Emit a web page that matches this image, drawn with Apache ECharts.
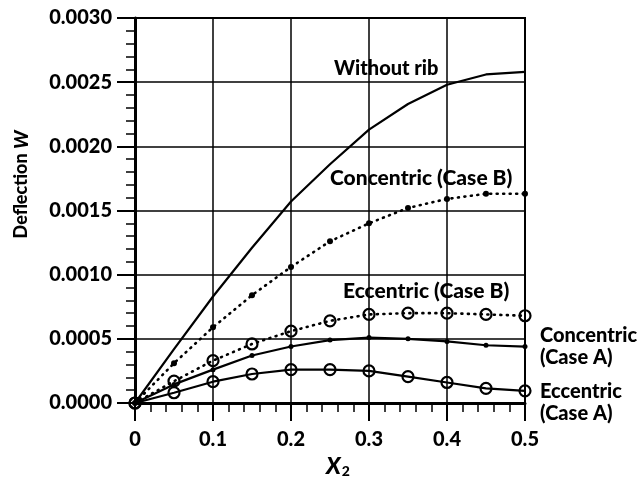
<!DOCTYPE html>
<html>
<head>
<meta charset="utf-8">
<script src="https://cdn.jsdelivr.net/npm/echarts@6/dist/echarts.min.js"></script>
<style>html,body{margin:0;padding:0;background:#fff}#c{width:642px;height:484px}</style>
</head>
<body>
<div id="c"></div>
<script>
const xValues = [0, 0.05, 0.1, 0.15, 0.2, 0.25, 0.3, 0.35, 0.4, 0.45, 0.5];
const withoutRib = [0, 0.00042, 0.00083, 0.00121, 0.00157, 0.00186, 0.00213, 0.00233, 0.00248, 0.00256, 0.00258];
const concentricB = [0, 0.00031, 0.00059, 0.00084, 0.00106, 0.00126, 0.00140, 0.00152, 0.00159, 0.00163, 0.00163];
const eccentricB = [0, 0.00017, 0.00033, 0.00046, 0.00056, 0.00064, 0.00069, 0.00070, 0.00070, 0.00069, 0.00068];
const concentricA = [0, 0.000145, 0.00026, 0.00037, 0.00044, 0.00049, 0.00051, 0.00050, 0.00048, 0.00045, 0.00044];
const eccentricA = [0, 0.00008, 0.000166, 0.000226, 0.00026, 0.00026, 0.00025, 0.000205, 0.00016, 0.000114, 0.000095];

const FONT = 'Lato';
const pairs = arr => xValues.map((x, i) => [x, arr[i]]);

const chart = echarts.init(document.getElementById('c'), null, {renderer: 'canvas'});
const lbl = (text, left, top, size) => ({
  type: 'text', left: left, top: top,
  style: {text: text, font: '900 ' + size + 'px ' + FONT, fill: '#000', lineHeight: 22}
});

chart.setOption({
  animation: false,
  backgroundColor: '#fff',
  grid: {left: 135, right: 117, top: 18, bottom: 81, show: true, borderColor: '#000', borderWidth: 2, backgroundColor: 'transparent'},
  xAxis: {
    type: 'value', min: 0, max: 0.5, interval: 0.1,
    axisLine: {show: true, onZero: false, lineStyle: {color: '#000', width: 3}},
    axisTick: {show: true, length: 18, lineStyle: {color: '#000', width: 2}},
    minorTick: {show: true, splitNumber: 5, length: 9, lineStyle: {color: '#000', width: 1.5}},
    splitLine: {show: true, lineStyle: {color: '#000', width: 1.5}},
    axisLabel: {margin: 27, color: '#000', fontFamily: FONT, fontWeight: 900, fontSize: 20,
      formatter: v => v === 0 ? '0' : v.toFixed(1)},
    name: '{i|X}{s|2}', nameLocation: 'middle', nameGap: 44,
    nameTextStyle: {padding: [0, 0, 0, 16], rich: {
      i: {fontFamily: FONT, fontStyle: 'italic', fontWeight: 900, fontSize: 23, color: '#000'},
      s: {fontFamily: FONT, fontWeight: 900, fontSize: 14, color: '#000', padding: [10, 0, 0, 1]}
    }}
  },
  yAxis: {
    type: 'value', min: 0, max: 0.003, interval: 0.0005,
    axisLine: {show: true, onZero: false, lineStyle: {color: '#000', width: 3}},
    axisTick: {show: true, length: 18, lineStyle: {color: '#000', width: 2}},
    minorTick: {show: true, splitNumber: 5, length: 9, lineStyle: {color: '#000', width: 1.5}},
    splitLine: {show: true, lineStyle: {color: '#000', width: 1.5}},
    axisLabel: {margin: 23, color: '#000', fontFamily: FONT, fontWeight: 900, fontSize: 20,
      formatter: v => v.toFixed(4)},
    name: '{n|Deflection }{i|W}', nameLocation: 'middle', nameRotate: 90, nameGap: 104,
    nameTextStyle: {fontSize: 18, padding: [0, 0, 0, 52], rich: {
      n: {fontFamily: FONT, fontWeight: 900, fontSize: 18, color: '#000'},
      i: {fontFamily: FONT, fontStyle: 'italic', fontWeight: 900, fontSize: 19, color: '#000'}
    }}
  },
  series: [
    {name: 'Without rib', type: 'line', data: pairs(withoutRib), showSymbol: false, symbol: 'none',
      lineStyle: {color: '#000', width: 2.2}, z: 5},
    {name: 'Concentric (Case B)', type: 'line', data: pairs(concentricB), symbol: 'circle', symbolSize: 6,
      itemStyle: {color: '#000'}, lineStyle: {color: '#000', width: 2.6, type: [1, 5.5], cap: 'round'}, z: 5},
    {name: 'Eccentric (Case B)', type: 'line', data: pairs(eccentricB), symbol: 'circle', symbolSize: 11,
      itemStyle: {color: 'rgba(0,0,0,0)', borderColor: '#000', borderWidth: 2.2},
      lineStyle: {color: '#000', width: 2.6, type: [1, 5.5], cap: 'round'}, z: 5},
    {name: 'Concentric (Case A)', type: 'line', data: pairs(concentricA), symbol: 'circle', symbolSize: 5,
      itemStyle: {color: '#000'}, lineStyle: {color: '#000', width: 2.2}, z: 5},
    {name: 'Eccentric (Case A)', type: 'line', data: pairs(eccentricA), symbol: 'circle', symbolSize: 11,
      itemStyle: {color: 'rgba(0,0,0,0)', borderColor: '#000', borderWidth: 2.2},
      lineStyle: {color: '#000', width: 2.2}, z: 5}
  ],
  graphic: [
    lbl('Without rib', 334, 58, 20),
    lbl('Concentric (Case B)', 330, 167, 21),
    lbl('Eccentric (Case B)', 343, 280, 21),
    lbl('Concentric\n(Case A)', 540, 325, 20),
    lbl('Eccentric\n(Case A)', 540, 381, 20)
  ]
});
</script>
</body>
</html>
